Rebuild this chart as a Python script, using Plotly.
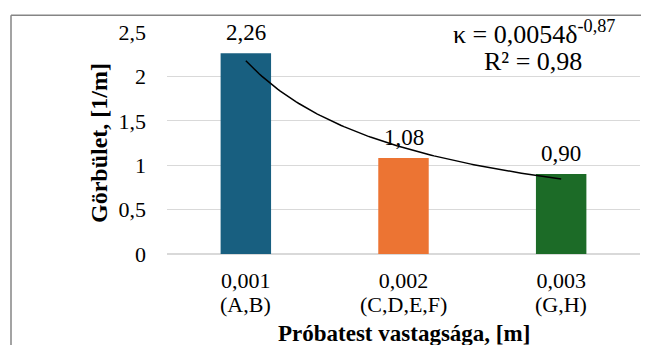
import numpy as np
import plotly.graph_objects as go

thickness = [0.001, 0.002, 0.003]
tick_labels = ["0,001", "0,002", "0,003"]
group_labels = ["(A,B)", "(C,D,E,F)", "(G,H)"]
curvature = [2.26, 1.08, 0.90]
bar_labels = ["2,26", "1,08", "0,90"]
colors = ["#185f80", "#ec7433", "#1c6b27"]
y_ticks = [0, 0.5, 1, 1.5, 2, 2.5]

FONT = "Liberation Serif, Times New Roman, serif"
W, H = 649, 345
# page has an 8px body margin, so figure coords = screen coords - 8
L, R, T, B = 159, 17, 21, 99
pw = W - L - R
ph = H - T - B

# power-law trendline fitted from the data (log-log least squares)
b, ln_a = np.polyfit(np.log(thickness), np.log(curvature), 1)
xs = np.linspace(thickness[0], thickness[-1], 120)
ys = np.exp(ln_a) * xs ** b

fig = go.Figure()
fig.add_trace(go.Bar(x=thickness, y=curvature, marker_color=colors,
                     marker_line_width=0, width=0.00032, showlegend=False,
                     hoverinfo="skip"))
fig.add_trace(go.Scatter(x=xs, y=ys, mode="lines",
                         line=dict(color="black", width=1.5),
                         showlegend=False, hoverinfo="skip"))

for xv, yv, t in zip(thickness, curvature, bar_labels):
    fig.add_annotation(x=xv, y=yv, text=t, showarrow=False, yanchor="bottom",
                       yshift=6, font=dict(family=FONT, size=23, color="black"))

# second line of category labels
for xv, g in zip(thickness, group_labels):
    fig.add_annotation(x=xv, yref="paper", y=-51 / ph, text=g, showarrow=False,
                       xanchor="center", yanchor="middle",
                       font=dict(family=FONT, size=22, color="black"))

# x-axis title
fig.add_annotation(xref="paper", yref="paper", x=0.5, y=-81 / ph,
                   text="<b>Próbatest vastagsága, [m]</b>", showarrow=False,
                   xanchor="center", yanchor="middle",
                   font=dict(family=FONT, size=23, color="black"))

fig.add_annotation(xref="paper", yref="paper",
                   x=(526 - L) / pw, y=(H - B - 21) / ph,
                   text="κ = 0,0054δ<sup>-0,87</sup>", showarrow=False,
                   xanchor="center", yanchor="middle",
                   font=dict(family=FONT, size=26, color="black"))
fig.add_annotation(xref="paper", yref="paper",
                   x=(525 - L) / pw, y=(H - B - 51) / ph,
                   text="R² = 0,98", showarrow=False,
                   xanchor="center", yanchor="middle",
                   font=dict(family=FONT, size=26, color="black"))

# outer chart border (left and top visible)
bx = (3 - L) / pw
by = (H - B - 4) / ph
fig.add_shape(type="line", xref="paper", yref="paper", x0=bx, x1=bx, y0=by, y1=-2,
              line=dict(color="#858585", width=1.5))
fig.add_shape(type="line", xref="paper", yref="paper", x0=bx, x1=2, y0=by, y1=by,
              line=dict(color="#858585", width=1.5))

fig.update_layout(
    width=W, height=H,
    margin=dict(l=L, r=R, t=T, b=B),
    paper_bgcolor="white", plot_bgcolor="white",
    separators=", ",
    font=dict(family=FONT, size=22, color="black"),
    xaxis=dict(range=[0.0005, 0.0035], tickvals=thickness, ticktext=tick_labels,
               showgrid=False, zeroline=False, showline=False, ticks="",
               ticklabelstandoff=11, tickfont=dict(size=22)),
    yaxis=dict(range=[0, 2.5], tickvals=y_ticks, showgrid=True,
               gridcolor="#d9d9d9", gridwidth=1, zeroline=True,
               zerolinecolor="#d9d9d9", zerolinewidth=1.5, showline=False,
               ticks="", ticklabelstandoff=20, tickfont=dict(size=22),
               title=dict(text="<b>Görbület, [1/m]</b>", standoff=4,
                          font=dict(size=24))),
)

fig.write_html("out.html")
